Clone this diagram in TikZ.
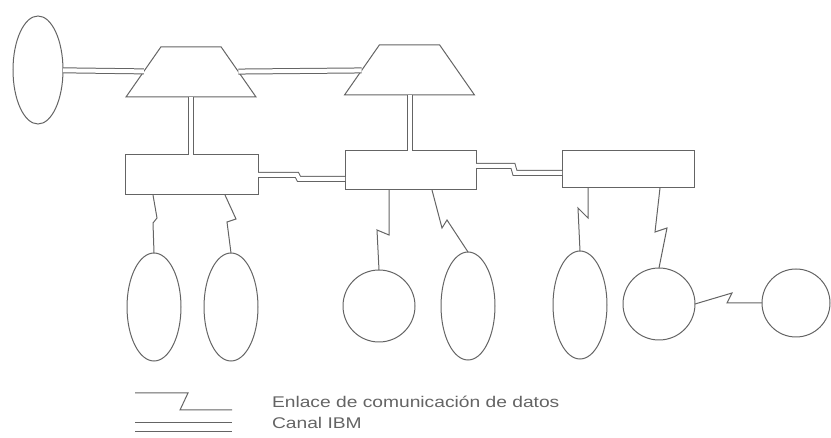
\documentclass[tikz,border=0pt]{standalone}
\usepackage{fontspec}
\setmainfont{Liberation Sans}
\usetikzlibrary{shapes.geometric,calc}
\definecolor{ln}{HTML}{646464}
\begin{document}
\begin{tikzpicture}[x=1pt,y=-1pt,
  every node/.style={inner sep=0pt,outer sep=0pt},
  shp/.style={draw=ln,line width=1pt},
  oval/.style={shp,ellipse,minimum width=54pt,minimum height=108pt},
  circ/.style={shp,circle,minimum size=72pt},
  trap/.style={shp,trapezium,trapezium angle=60,trapezium stretches=true,inner sep=1pt,minimum width=130pt,minimum height=50pt},
  ibm/.style={draw=ln,line width=1pt,double=white,double distance=4pt},
  dlink/.style={draw=ln,line width=1pt,line join=miter},
  lbl/.style={anchor=base west,text=ln,font=\fontsize{15.5}{18}\selectfont}]
\useasboundingbox (0,0) rectangle (831,438);

% top level
\node[shp,ellipse,minimum width=50pt,minimum height=108pt] (e0) at (38,70) {};
\node[trap] (t1) at (191,72) {};
\node[trap] (t2) at (409.5,70) {};

% processors
\node[shp,minimum width=133pt,minimum height=40pt] (b1) at (191.5,175) {};
\node[shp,minimum width=131pt,minimum height=39pt] (b2) at (410.5,170.5) {};
\node[shp,minimum width=132pt,minimum height=37pt] (b3) at (628,169.5) {};

% terminals
\node[oval] (e1) at (154,307) {};
\node[oval] (e2) at (231,307) {};
\node[circ] (c1) at (379,306) {};
\node[oval] (e3) at (468,306) {};
\node[oval] (e4) at (580,305) {};
\node[circ] (c2) at (659,304) {};
\node[shp,circle,minimum size=68pt] (c3) at (796,303) {};

% IBM channels
\draw[ibm] (e0) -- (t1);
\draw[ibm] (t1) -- (t2);
\draw[ibm] (t1.south) -- (t1.south |- b1.north);
\draw[ibm] (t2.south) -- (t2.south |- b2.north);

% combined links between processors
\draw[ibm] (b1.east) -- ++(39,0) -- ++(2,4) -- ($(b2.west)+(0,8.5)$);
\draw[ibm] ($(b2.east)+(0,-4.5)$) -- ++(37,0) -- ++(2,7) -- ($(b3.west)+(0,3.5)$);

% data links
\draw[dlink] ($(b1.south west)+(28,0)$) -- (157,218) -- (153,223) -- (e1.north);
\draw[dlink] ($(b1.south west)+(100,0)$) -- (236,219) -- (227,222) -- (e2.north);
\draw[dlink] ($(b2.south west)+(44,0)$) -- (389,235) -- (377,230) -- (c1.north);
\draw[dlink] ($(b2.south west)+(87,0)$) -- (442,228) -- (447,220) -- (e3.north);
\draw[dlink] ($(b3.south west)+(26,0)$) -- (588,218) -- (578,208) -- (e4.north);
\draw[dlink] ($(b3.south west)+(98,0)$) -- (655,232) -- (667,228) -- (c2.north);
\draw[dlink] (c2.east) -- (732,293) -- (727,303) -- (c3.west);

% legend
\coordinate (la) at (135,393);
\coordinate (lb) at (232,410);
\coordinate (lc) at (135,423);
\coordinate (ld) at (232,423);
\coordinate (le) at (135,432);
\coordinate (lf) at (232,432);
\draw[dlink] (la) -- (188,393) -- (180,410) -- (lb);
\draw[dlink] (lc) -- (ld);
\draw[dlink] (le) -- (lf);
\node[lbl] (t1txt) at (272,408) {\scalebox{1.24}[1]{Enlace de comunicación de datos}};
\node[lbl] (t2txt) at (272,429) {\scalebox{1.24}[1]{Canal IBM}};
\end{tikzpicture}
\end{document}
